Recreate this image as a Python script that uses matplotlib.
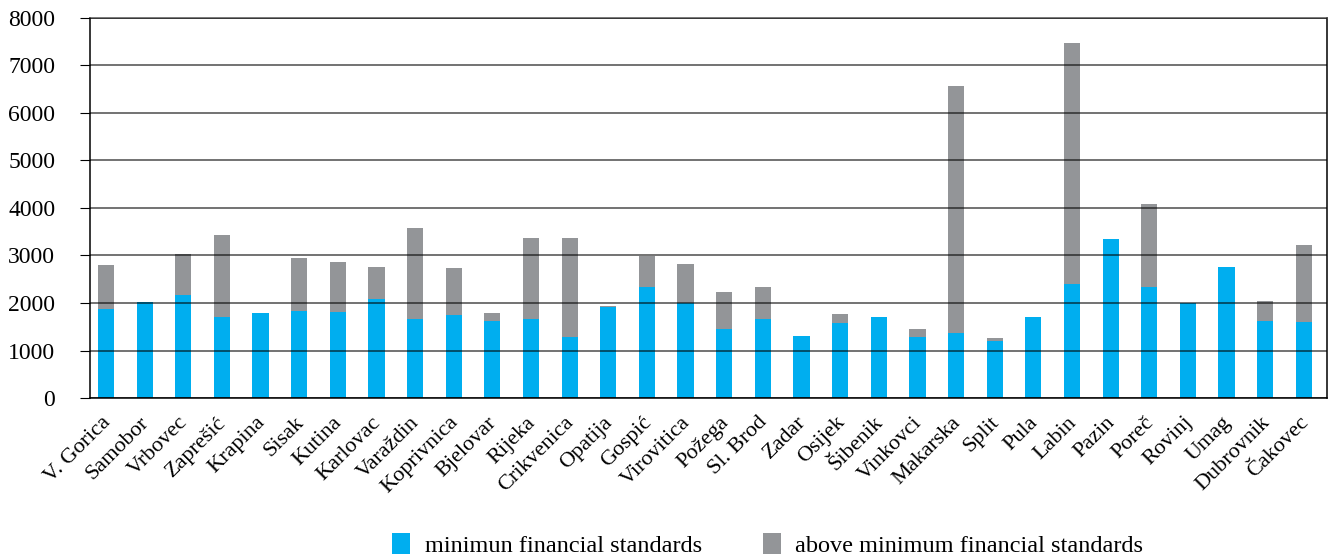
"""Financial standards per town - stacked bar chart."""
import matplotlib
matplotlib.use('Agg')
import matplotlib.pyplot as plt
import matplotlib.transforms as mtransforms
import numpy as np

plt.rcParams['font.family'] = ['Liberation Serif', 'DejaVu Serif']

towns = ['V. Gorica', 'Samobor', 'Vrbovec', 'Zaprešić', 'Krapina', 'Sisak', 'Kutina',
         'Karlovac', 'Varaždin', 'Koprivnica', 'Bjelovar', 'Rijeka', 'Crikvenica',
         'Opatija', 'Gospić', 'Virovitica', 'Požega', 'Sl. Brod', 'Zadar', 'Osijek',
         'Šibenik', 'Vinkovci', 'Makarska', 'Split', 'Pula', 'Labin', 'Pazin', 'Poreč',
         'Rovinj', 'Umag', 'Dubrovnik', 'Čakovec']
minimum = [1880, 2030, 2175, 1710, 1795, 1840, 1820, 2090, 1670, 1755, 1630, 1670, 1290,
           1910, 2345, 2000, 1460, 1670, 1310, 1570, 1710, 1290, 1360, 1205, 1710, 2405,
           3355, 2345, 2000, 2765, 1630, 1605]
total = [2805, 2030, 3040, 3440, 1795, 2955, 2870, 2765, 3585, 2745, 1795, 3375, 3375,
         1945, 2980, 2830, 2240, 2345, 1310, 1775, 1710, 1460, 6555, 1270, 1710, 7460,
         3355, 4090, 2000, 2765, 2050, 3230]
above = [t - m for t, m in zip(total, minimum)]

fig = plt.figure(figsize=(13.33, 5.56), dpi=100)
ax = fig.add_axes([0.0675, 0.284, 0.928, 0.684])

x = np.arange(len(towns))
ax.bar(x, minimum, width=0.42, color='#00AEEF', label='minimun financial standards', zorder=1)
ax.bar(x, above, bottom=minimum, width=0.42, color='#939598',
       label='above minimum financial standards', zorder=1)

ax.set_ylim(0, 8000)
ax.set_xlim(-0.414, len(towns) - 0.4)
ax.set_yticks(range(0, 8001, 1000))
ax.yaxis.grid(True, color='black', alpha=0.7, linewidth=1.1, zorder=3)
ax.set_axisbelow(False)

ax.set_xticks(x)
ax.set_xticklabels(towns, rotation=45, ha='right', rotation_mode='anchor', fontsize=16)
ax.tick_params(axis='x', length=0, pad=0)
offset = mtransforms.ScaledTranslation(-0.05, -0.15, fig.dpi_scale_trans)
for lbl in ax.get_xticklabels():
    lbl.set_transform(lbl.get_transform() + offset)
ax.tick_params(axis='y', labelsize=17, length=7, direction='out', pad=18)

for side in ['top', 'right', 'left', 'bottom']:
    ax.spines[side].set_linewidth(1.1)
ax.spines['top'].set_color('#555555')

fig.legend(loc='center', bbox_to_anchor=(0.576, 0.02), ncol=2, frameon=False,
           fontsize=17.5, handlelength=0.74, handleheight=0.95, columnspacing=2.5,
           handletextpad=0.6)

plt.savefig('out.png', dpi=100)
print("Generated out.png")
